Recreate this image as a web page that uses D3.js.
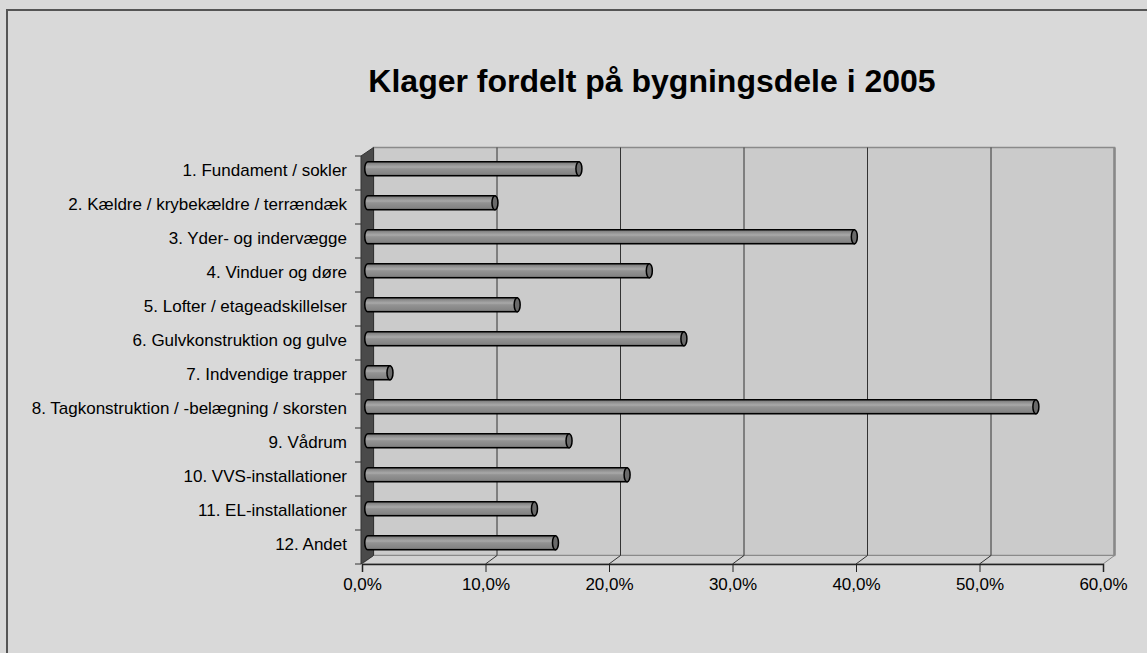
<!DOCTYPE html>
<html>
<head>
<meta charset="utf-8">
<script src="https://cdn.jsdelivr.net/npm/d3@7"></script>
<style>
  body { margin: 0; background: #d9d9d9; }
  svg { display: block; font-family: "Liberation Sans", Arial, sans-serif; }
</style>
</head>
<body>
<svg id="chart" width="1147" height="653"></svg>
<script>
// data
const categories = [
  "1. Fundament / sokler",
  "2. Kældre / krybekældre / terrændæk",
  "3. Yder- og indervægge",
  "4. Vinduer og døre",
  "5. Lofter / etageadskillelser",
  "6. Gulvkonstruktion og gulve",
  "7. Indvendige trapper",
  "8. Tagkonstruktion / -belægning / skorsten",
  "9. Vådrum",
  "10. VVS-installationer",
  "11. EL-installationer",
  "12. Andet"
];
const values = [17.1, 10.3, 39.4, 22.8, 12.1, 25.6, 1.8, 54.1, 16.3, 21.0, 13.5, 15.2];
const xTicks = [0, 10, 20, 30, 40, 50, 60];
const title = "Klager fordelt på bygningsdele i 2005";

const svg = d3.select("#chart");

// 3d depth offset (front -> back)
const dx = 11.5, dy = -8.5;

const x = d3.scaleLinear().domain([0, 60]).range([362, 1103]);
const y = d3.scaleBand().domain(categories).range([156, 564]);

// outer chart frame
svg.append("rect")
  .attr("x", 7).attr("y", 10)
  .attr("width", 1160).attr("height", 670)
  .attr("fill", "#d9d9d9")
  .attr("stroke", "#555").attr("stroke-width", 2);

// title
svg.append("text")
  .attr("x", 652).attr("y", 92)
  .attr("text-anchor", "middle")
  .attr("font-size", 32).attr("font-weight", "bold")
  .attr("fill", "#000")
  .text(title);

const x0 = x(0), x1 = x(60), yTop = y.range()[0], yBot = y.range()[1];

// back wall
svg.append("rect")
  .attr("x", x0 + dx).attr("y", yTop + dy)
  .attr("width", x1 - x0).attr("height", yBot - yTop)
  .attr("fill", "#cbcbcb")
  .attr("stroke", "#8a8a8a").attr("stroke-width", 1.5);
svg.append("line")
  .attr("x1", x1 + dx).attr("x2", x1 + dx)
  .attr("y1", yTop + dy).attr("y2", yBot + dy)
  .attr("stroke", "#888").attr("stroke-width", 2.5);

// floor
svg.append("path")
  .attr("d", `M${x0},${yBot}L${x0 + dx},${yBot + dy}L${x1 + dx},${yBot + dy}L${x1},${yBot}Z`)
  .attr("fill", "#d2d2d2")
  .attr("stroke", "#8a8a8a").attr("stroke-width", 1);

// gridlines on back wall + floor
svg.selectAll(".grid")
  .data(xTicks.slice(1, -1))
  .join("line")
    .attr("x1", d => x(d) + dx).attr("x2", d => x(d) + dx)
    .attr("y1", yTop + dy).attr("y2", yBot + dy)
    .attr("stroke", "#333").attr("stroke-width", 1);
svg.selectAll(".floorgrid")
  .data(xTicks.slice(1, -1))
  .join("line")
    .attr("x1", d => x(d)).attr("x2", d => x(d) + dx)
    .attr("y1", yBot).attr("y2", yBot + dy)
    .attr("stroke", "#333").attr("stroke-width", 1);

// left wall
svg.append("path")
  .attr("d", `M${x0 - 1},${yTop}L${x0 + dx},${yTop + dy}L${x0 + dx},${yBot + dy}L${x0 - 1},${yBot}Z`)
  .attr("fill", "#4a4a4a")
  .attr("stroke", "#333").attr("stroke-width", 1);

// bars as cylinders
const defs = svg.append("defs");
const grad = defs.append("linearGradient")
  .attr("id", "cyl").attr("x1", 0).attr("y1", 0).attr("x2", 0).attr("y2", 1);
[[0, "#707070"], [0.15, "#8a8a8a"], [0.38, "#a9a9a9"], [0.5, "#939393"], [0.85, "#858585"], [1, "#606060"]]
  .forEach(s => grad.append("stop").attr("offset", s[0]).attr("stop-color", s[1]));

const ry = 7, rx = 3;
const bars = svg.selectAll(".bar")
  .data(categories.map((c, i) => ({ c, v: values[i] })))
  .join("g");

bars.append("path")
  .attr("d", d => {
    const cy = y(d.c) + y.bandwidth() / 2 + dy / 2;
    const xs = x(0) + dx / 2, xe = x(d.v) + dx / 2;
    return `M${xe},${cy - ry}L${xs},${cy - ry}A${rx},${ry} 0 0 0 ${xs},${cy + ry}L${xe},${cy + ry}Z`;
  })
  .attr("fill", "url(#cyl)")
  .attr("stroke", "#000").attr("stroke-width", 1.5);

bars.append("ellipse")
  .attr("cx", d => x(d.v) + dx / 2)
  .attr("cy", d => y(d.c) + y.bandwidth() / 2 + dy / 2)
  .attr("rx", rx).attr("ry", ry)
  .attr("fill", "#6a6a6a")
  .attr("stroke", "#000").attr("stroke-width", 1.5);

// category axis ticks and labels
svg.selectAll(".ytick")
  .data(categories.concat(["end"]))
  .join("line")
    .attr("x1", x0 - 7).attr("x2", x0 - 1)
    .attr("y1", (d, i) => yTop + i * y.step())
    .attr("y2", (d, i) => yTop + i * y.step())
    .attr("stroke", "#333");

svg.selectAll(".ylabel")
  .data(categories)
  .join("text")
    .attr("x", 347)
    .attr("y", d => y(d) + y.bandwidth() / 2 - 3)
    .attr("dy", "0.35em")
    .attr("text-anchor", "end")
    .attr("font-size", 17)
    .attr("fill", "#000")
    .text(d => d);

// value axis
const xAxis = d3.axisBottom(x)
  .tickValues(xTicks)
  .tickSize(8)
  .tickPadding(6)
  .tickFormat(d => d3.format(".1f")(d).replace(".", ",") + "%");

const gx = svg.append("g")
  .attr("transform", `translate(0,${yBot})`)
  .call(xAxis);
gx.select(".domain").attr("stroke", "#222").attr("stroke-width", 1.5);
gx.selectAll(".tick line").attr("stroke", "#222");
gx.selectAll(".tick text")
  .attr("font-size", 17)
  .attr("font-family", "Liberation Sans, Arial, sans-serif")
  .attr("fill", "#000");
</script>
</body>
</html>
